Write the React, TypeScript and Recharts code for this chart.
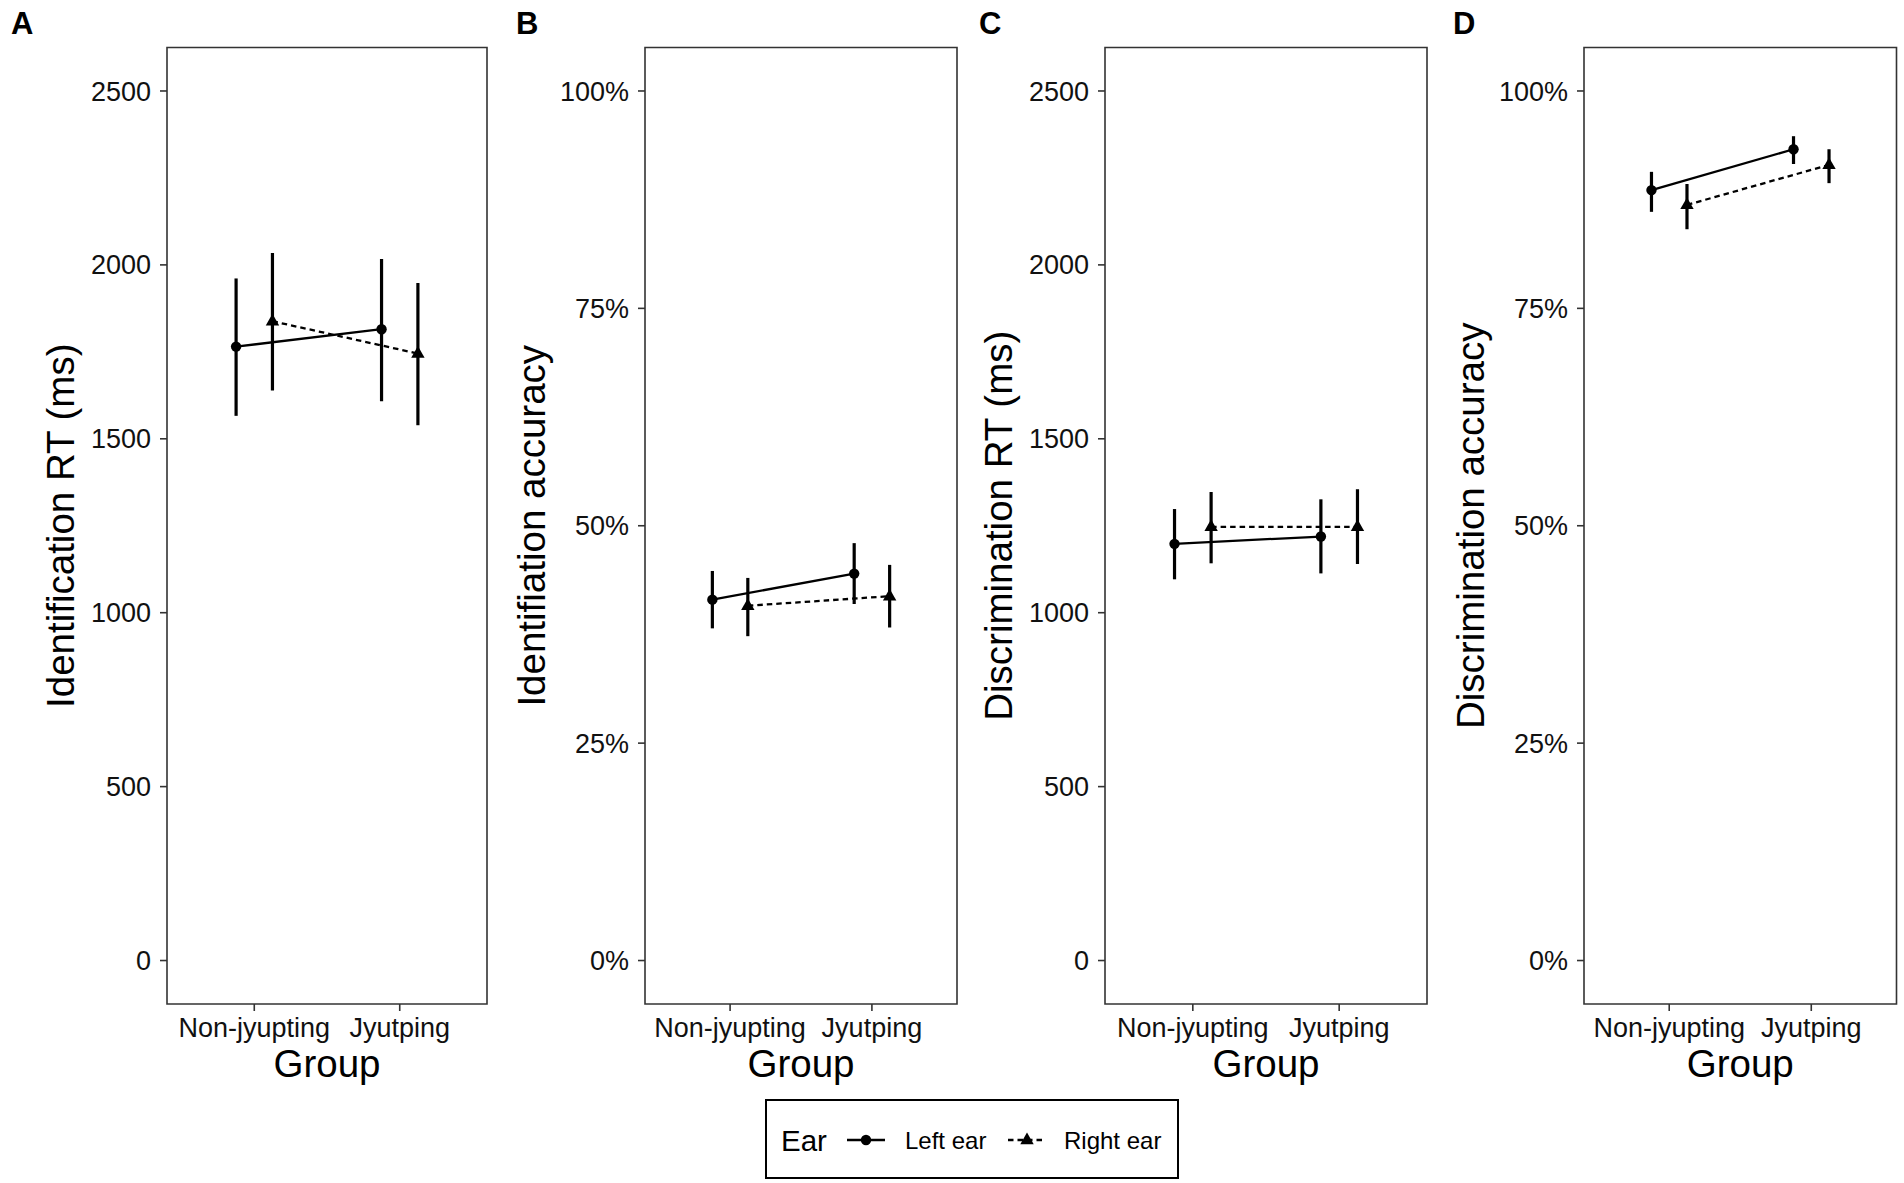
import { ComposedChart, Scatter, XAxis, YAxis, ErrorBar, ReferenceArea, Label } from 'recharts';

const groups = ['Non-jyupting', 'Jyutping'];
const ears = ['Left ear', 'Right ear'];
const rtTicks = [0, 500, 1000, 1500, 2000, 2500];
const pctTicks = [0, 25, 50, 75, 100];

// A: identification RT (ms)
const idRtLeft = [1765, 1815];
const idRtLeftLo = [1566, 1608];
const idRtLeftHi = [1961, 2017];
const idRtRight = [1838, 1745];
const idRtRightLo = [1639, 1539];
const idRtRightHi = [2034, 1948];

// B: identification accuracy (%)
const idAccLeft = [41.5, 44.5];
const idAccLeftLo = [38.2, 41.0];
const idAccLeftHi = [44.8, 48.0];
const idAccRight = [40.8, 41.9];
const idAccRightLo = [37.3, 38.3];
const idAccRightHi = [44.0, 45.5];

// C: discrimination RT (ms)
const discRtLeft = [1198, 1219];
const discRtLeftLo = [1096, 1113];
const discRtLeftHi = [1298, 1326];
const discRtRight = [1247, 1247];
const discRtRightLo = [1142, 1140];
const discRtRightHi = [1347, 1355];

// D: discrimination accuracy (%)
const discAccLeft = [88.6, 93.3];
const discAccLeftLo = [86.1, 91.6];
const discAccLeftHi = [90.7, 94.8];
const discAccRight = [86.9, 91.5];
const discAccRightLo = [84.1, 89.4];
const discAccRightHi = [89.3, 93.3];

const DODGE = 0.125;
const FONT = '"Liberation Sans", Arial, sans-serif';

const build = (mean: number[], lo: number[], hi: number[], side: number) =>
  mean.map((m, i) => ({ x: i + 1 + side * DODGE, y: m, err: [m - lo[i], hi[i] - m] }));

const Dot = (p: any) => <circle cx={p.cx} cy={p.cy} r={5.2} fill="#000" />;
const Tri = (p: any) => (
  <polygon points={`${p.cx},${p.cy - 7.5} ${p.cx - 6.7},${p.cy + 4.2} ${p.cx + 6.7},${p.cy + 4.2}`} fill="#000" />
);

interface PanelProps {
  title: string;
  plotLeft: number;
  plotWidth: number;
  titleGap: number;
  domain: [number, number];
  ticks: number[];
  fmt: (v: number) => string;
  left: { x: number; y: number; err: number[] }[];
  right: { x: number; y: number; err: number[] }[];
}

const Panel = ({ title, plotLeft, plotWidth, titleGap, domain, ticks, fmt, left, right }: PanelProps) => {
  const axisW = 110;
  const marginL = 50;
  return (
    <div style={{ position: 'absolute', left: plotLeft - axisW - marginL, top: 0 }}>
      <ComposedChart
        width={axisW + marginL + plotWidth + 4}
        height={1100}
        margin={{ top: 47.5, right: 4, bottom: 16, left: marginL }}
        style={{ fontFamily: FONT }}
      >
        <XAxis
          type="number"
          dataKey="x"
          domain={[0.4, 2.6]}
          ticks={[1, 2]}
          allowDataOverflow
          height={80}
          tickFormatter={(v: number) => groups[v - 1]}
          tick={{ fontSize: 27, fill: '#111' }}
          tickSize={7}
          tickMargin={7}
          tickLine={{ stroke: '#333', strokeWidth: 1.6 }}
          axisLine={false}
        >
          <Label
            content={(props: any) => {
              const vb = props.viewBox;
              return (
                <text x={vb.x + vb.width / 2} y={1077} textAnchor="middle" fontSize={38.5} fill="#000" fontFamily={FONT}>
                  Group
                </text>
              );
            }}
          />
        </XAxis>
        <YAxis
          type="number"
          dataKey="y"
          domain={domain}
          ticks={ticks}
          allowDataOverflow
          width={axisW}
          tickFormatter={fmt}
          tick={{ fontSize: 27, fill: '#111' }}
          tickSize={7}
          tickMargin={9}
          tickLine={{ stroke: '#333', strokeWidth: 1.6 }}
          axisLine={false}
        >
          <Label
            content={(props: any) => {
              const vb = props.viewBox;
              const x = vb.x + vb.width - titleGap;
              const cy = vb.y + vb.height / 2;
              return (
                <text
                  x={x}
                  y={cy}
                  transform={`rotate(-90, ${x}, ${cy})`}
                  textAnchor="middle"
                  fontSize={38.5}
                  fill="#000"
                  fontFamily={FONT}
                >
                  {title}
                </text>
              );
            }}
          />
        </YAxis>
        <ReferenceArea
          x1={0.4}
          x2={2.6}
          y1={domain[0]}
          y2={domain[1]}
          fill="none"
          stroke="#333"
          strokeWidth={1.6}
          ifOverflow="visible"
        />
        <Scatter
          name={ears[0]}
          data={left}
          shape={Dot}
          line={{ stroke: '#000', strokeWidth: 2.3 }}
          lineType="joint"
          fill="#000"
          isAnimationActive={false}
        >
          <ErrorBar dataKey="err" direction="y" width={0} stroke="#000" strokeWidth={3.2} isAnimationActive={false} />
        </Scatter>
        <Scatter
          name={ears[1]}
          data={right}
          shape={Tri}
          line={{ stroke: '#000', strokeWidth: 2.3, strokeDasharray: '5.5 4' }}
          lineType="joint"
          fill="#000"
          isAnimationActive={false}
        >
          <ErrorBar dataKey="err" direction="y" width={0} stroke="#000" strokeWidth={3.2} isAnimationActive={false} />
        </Scatter>
      </ComposedChart>
    </div>
  );
};

const rtDomain: [number, number] = [-125, 2625];
const pctDomain: [number, number] = [-5, 105];
const rtFmt = (v: number) => `${v}`;
const pctFmt = (v: number) => `${v}%`;

const letters = [
  { t: 'A', x: 11 },
  { t: 'B', x: 516 },
  { t: 'C', x: 979 },
  { t: 'D', x: 1453 },
];

const Overlay = () => (
  <svg width={1904} height={1183} style={{ position: 'absolute', left: 0, top: 0, pointerEvents: 'none', fontFamily: FONT }}>
    {letters.map((l) => (
      <text key={l.t} x={l.x} y={34} fontSize={31} fontWeight="bold" fill="#000">
        {l.t}
      </text>
    ))}
    <rect x={766} y={1100} width={412} height={78} fill="#fff" stroke="#000" strokeWidth={2} />
    <text x={781} y={1151} fontSize={29.5} fill="#000">Ear</text>
    <line x1={847} y1={1140} x2={885} y2={1140} stroke="#000" strokeWidth={2.3} />
    <circle cx={866} cy={1140} r={5.2} fill="#000" />
    <text x={905} y={1149} fontSize={24} fill="#000">{ears[0]}</text>
    <line x1={1008} y1={1140} x2={1046} y2={1140} stroke="#000" strokeWidth={2.3} strokeDasharray="5.5 4" />
    <polygon points="1027,1132.5 1020.3,1144.2 1033.7,1144.2" fill="#000" />
    <text x={1064} y={1149} fontSize={24} fill="#000">{ears[1]}</text>
  </svg>
);

export default function App() {
  return (
    <div style={{ position: 'absolute', left: 0, top: 0, width: 1904, height: 1183, overflow: 'hidden', background: '#fff' }}>
      <Panel
        title="Identification RT (ms)"
        plotLeft={166.5}
        plotWidth={320}
        titleGap={93.5}
        domain={rtDomain}
        ticks={rtTicks}
        fmt={rtFmt}
        left={build(idRtLeft, idRtLeftLo, idRtLeftHi, -1)}
        right={build(idRtRight, idRtRightLo, idRtRightHi, 1)}
      />
      <Panel
        title="Identifiation accuracy"
        plotLeft={645}
        plotWidth={312}
        titleGap={100}
        domain={pctDomain}
        ticks={pctTicks}
        fmt={pctFmt}
        left={build(idAccLeft, idAccLeftLo, idAccLeftHi, -1)}
        right={build(idAccRight, idAccRightLo, idAccRightHi, 1)}
      />
      <Panel
        title="Discrimination RT (ms)"
        plotLeft={1105}
        plotWidth={322}
        titleGap={93.5}
        domain={rtDomain}
        ticks={rtTicks}
        fmt={rtFmt}
        left={build(discRtLeft, discRtLeftLo, discRtLeftHi, -1)}
        right={build(discRtRight, discRtRightLo, discRtRightHi, 1)}
      />
      <Panel
        title="Discrimination accuracy"
        plotLeft={1584}
        plotWidth={312.5}
        titleGap={100}
        domain={pctDomain}
        ticks={pctTicks}
        fmt={pctFmt}
        left={build(discAccLeft, discAccLeftLo, discAccLeftHi, -1)}
        right={build(discAccRight, discAccRightLo, discAccRightHi, 1)}
      />
      <Overlay />
    </div>
  );
}
